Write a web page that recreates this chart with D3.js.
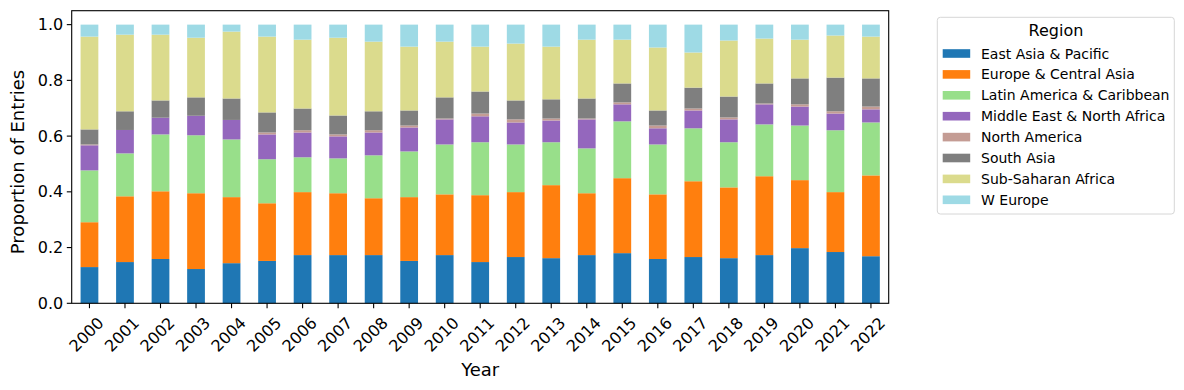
<!DOCTYPE html>
<html><head><meta charset="utf-8">
<script src="https://cdn.jsdelivr.net/npm/d3@7"></script>
<style>body{margin:0;background:#fff}svg{display:block;font-family:"DejaVu Sans",sans-serif}</style>
</head><body><svg id="c" width="1184" height="390"></svg>
<script>
const years = ["2000","2001","2002","2003","2004","2005","2006","2007","2008","2009","2010","2011","2012","2013","2014","2015","2016","2017","2018","2019","2020","2021","2022"];
const regions = ["East Asia & Pacific","Europe & Central Asia","Latin America & Caribbean","Middle East & North Africa","North America","South Asia","Sub-Saharan Africa","W Europe"];
const colors = ["#1f77b4","#ff7f0e","#98df8a","#9467bd","#c49c94","#7f7f7f","#dbdb8d","#9edae5"];
const eastAsiaPacific = [.130,.148,.159,.123,.144,.152,.173,.173,.173,.152,.173,.148,.166,.162,.173,.180,.159,.166,.162,.173,.198,.184,.169];
const europeCentralAsia = [.161,.236,.243,.272,.237,.207,.226,.222,.204,.229,.218,.240,.233,.262,.222,.269,.232,.272,.254,.283,.244,.215,.290];
const latinAmerica = [.186,.154,.204,.208,.207,.158,.125,.125,.154,.164,.179,.190,.171,.154,.161,.204,.179,.190,.162,.186,.196,.222,.190];
const middleEast = [.090,.084,.060,.070,.070,.089,.089,.079,.082,.086,.090,.093,.079,.078,.104,.061,.058,.064,.082,.072,.068,.060,.047];
const northAmerica = [.003,0,0,0,0,.007,.008,.007,.008,.007,.003,.010,.011,.007,.003,.007,.010,.007,.007,.003,.008,.008,.010];
const southAsia = [.054,.067,.062,.066,.077,.072,.078,.068,.068,.054,.076,.079,.068,.069,.072,.068,.054,.075,.075,.072,.093,.121,.101];
const subSaharan = [.333,.275,.236,.214,.240,.272,.247,.279,.250,.229,.200,.161,.204,.189,.211,.157,.226,.126,.201,.161,.139,.151,.150];
const wEurope = [.043,.036,.036,.047,.025,.043,.054,.047,.061,.079,.061,.079,.068,.079,.054,.054,.082,.100,.057,.050,.054,.039,.043];
const yTicks = [0,0.2,0.4,0.6,0.8,1.0];

const series = [eastAsiaPacific,europeCentralAsia,latinAmerica,middleEast,northAmerica,southAsia,subSaharan,wEurope];
const table = years.map((y,i)=>{const o={year:y}; regions.forEach((r,k)=>o[r]=series[k][i]); return o;});

const L=71.7,R=888.7,T=10.7,B=303.3;
const svg=d3.select("#c");
const x=d3.scaleBand().domain(years).range([L,R]).paddingInner(0.5).paddingOuter(0.25);
const y=d3.scaleLinear().domain([0,1.05]).range([B,T]);
const color=d3.scaleOrdinal().domain(regions).range(colors);
const stacked=d3.stack().keys(regions)(table);

svg.append("g").selectAll("g").data(stacked).join("g").attr("fill",d=>color(d.key))
 .selectAll("rect").data(d=>d).join("rect")
 .attr("x",d=>x(d.data.year)).attr("width",x.bandwidth())
 .attr("y",d=>y(d[1])).attr("height",d=>Math.max(0,y(d[0])-y(d[1])));

// spines
svg.append("rect").attr("x",L).attr("y",T).attr("width",R-L).attr("height",B-T)
 .attr("fill","none").attr("stroke","#000").attr("stroke-width",1.1);

// y axis
const yg=svg.append("g");
yTicks.forEach(v=>{
  yg.append("line").attr("x1",L-4.9).attr("x2",L).attr("y1",y(v)).attr("y2",y(v)).attr("stroke","#000").attr("stroke-width",1.1);
  yg.append("text").attr("x",L-8.5).attr("y",y(v)).attr("text-anchor","end").attr("dominant-baseline","central")
    .attr("font-size",16).attr("fill","#000").text(v.toFixed(1));
});
// x axis
const xg=svg.append("g");
years.forEach(yr=>{
  const cx=x(yr)+x.bandwidth()/2;
  xg.append("line").attr("x1",cx).attr("x2",cx).attr("y1",B).attr("y2",B+4.9).attr("stroke","#000").attr("stroke-width",1.1);
  const t=xg.append("text").attr("font-size",16).attr("fill","#000").attr("text-anchor","middle").attr("dominant-baseline","central").text(yr);
  const w=t.node().getComputedTextLength();
  const h=12;
  const bh=(w+h)*Math.SQRT1_2;
  t.attr("transform",`translate(${cx-3},${B+12.5+bh/2}) rotate(-45)`);
});

svg.append("text").attr("x",(L+R)/2).attr("y",376).attr("text-anchor","middle").attr("font-size",18).attr("fill","#000").text("Year");
svg.append("text").attr("transform",`translate(24,162) rotate(-90)`).attr("text-anchor","middle").attr("font-size",18).attr("fill","#000").text("Proportion of Entries");

// legend
const lg=svg.append("g");
lg.append("rect").attr("x",937.3).attr("y",17.3).attr("width",237).attr("height",196.7).attr("rx",3)
 .attr("fill","#fff").attr("stroke","#d6d6d6").attr("stroke-width",1);
lg.append("text").attr("x",1056).attr("y",36).attr("text-anchor","middle").attr("font-size",16).attr("fill","#000").text("Region");
regions.forEach((r,i)=>{
  const cy=53.5+i*20.9;
  lg.append("rect").attr("x",942.7).attr("y",cy-4.3).attr("width",27.5).attr("height",8.6).attr("fill",color(r));
  lg.append("text").attr("x",981).attr("y",cy).attr("dominant-baseline","central").attr("font-size",14).attr("fill","#000").text(r);
});
</script></body></html>
